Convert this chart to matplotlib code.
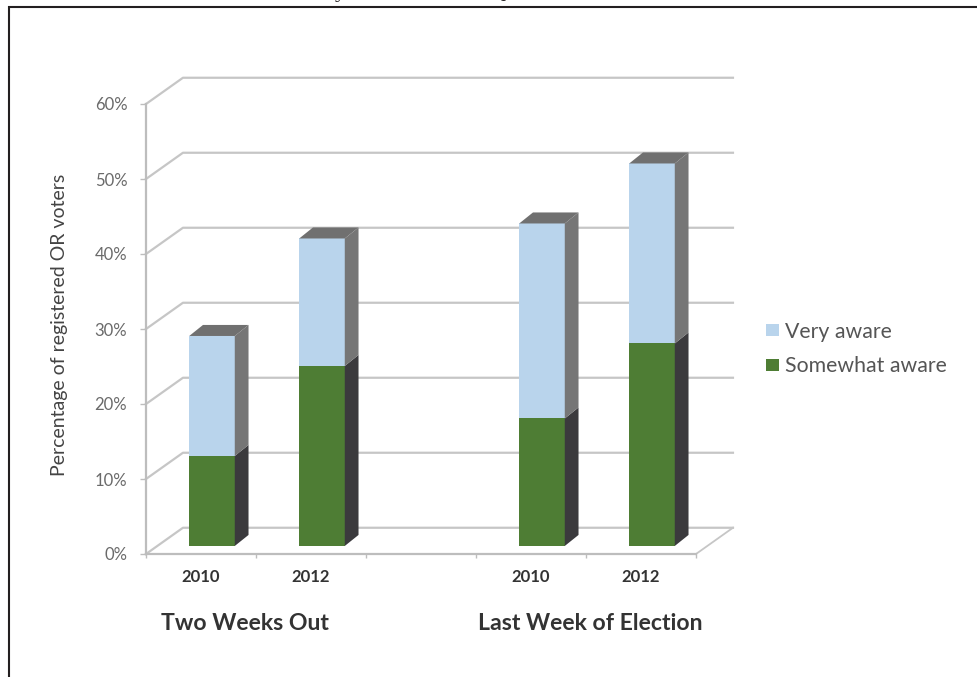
import matplotlib
matplotlib.use("Agg")
import matplotlib.pyplot as plt
from matplotlib.lines import Line2D
import numpy as np

categories = ['2010', '2012', '', '2010', '2012']
bar_slots = np.array([0, 1, 3, 4])
somewhat_aware = np.array([12, 24, 17, 27])
very_aware = np.array([16, 17, 26, 24])
y_ticks = [0, 10, 20, 30, 40, 50, 60]
groups = ['Two Weeks Out', 'Last Week of Election']

plt.rcParams['font.family'] = ['Lato', 'DejaVu Sans']

W, H = 977, 677
fig = plt.figure(figsize=(W / 100, H / 100), dpi=100)
ax = fig.add_axes([146 / W, 1 - 554 / H, 550 / W, 450 / H])
ax.set_xlim(0, 5)
ax.set_ylim(0, 60)

# fake 3d depth, in data units
dx, dy = 0.336, 3.5
bar_w = 0.414
bar_dx, bar_dy = 0.125, 1.47
off_x, off_y = 0.1, 1.07

grid_c = '#c6c6c6'
for v in y_ticks:
    ax.plot([0, dx, 5 + dx], [v, v + dy, v + dy], color=grid_c, lw=1.6, clip_on=False, zorder=1)
ax.plot([5, 5 + dx], [0, dy], color=grid_c, lw=1.3, clip_on=False, zorder=1)

x = bar_slots + 0.5 + off_x
green = ax.bar(x, somewhat_aware, bar_w, bottom=off_y, color='#4e7d34', zorder=3, label='Somewhat aware')
blue = ax.bar(x, very_aware, bar_w, bottom=off_y + somewhat_aware, color='#b9d4ec', zorder=3, label='Very aware')


def side(xr, y0, y1, c):
    ax.fill([xr, xr + bar_dx, xr + bar_dx, xr],
            [y0, y0 + bar_dy, y1 + bar_dy, y1], color=c, lw=0, zorder=3, clip_on=False)


for xc, s, v in zip(x, somewhat_aware, very_aware):
    xr = xc + bar_w / 2
    side(xr, off_y, off_y + s, '#3b3a3d')
    side(xr, off_y + s, off_y + s + v, '#767676')
    top = off_y + s + v
    ax.fill([xr - bar_w, xr, xr + bar_dx, xr - bar_w + bar_dx],
            [top, top, top + bar_dy, top + bar_dy], color='#707070', lw=0, zorder=3, clip_on=False)

for name in ['top', 'right']:
    ax.spines[name].set_visible(False)
for name in ['left', 'bottom']:
    ax.spines[name].set_color('#bdbdbd')
    ax.spines[name].set_linewidth(1.6)

ax.set_yticks(y_ticks)
ax.set_yticklabels([f'{v}%' for v in y_ticks], fontsize=12, color='#6a6a6a')
ax.tick_params(axis='y', length=4, width=1, color='#bdbdbd', pad=9.5)
ax.set_xticks(np.arange(6))
ax.set_xticklabels([])
ax.tick_params(axis='x', which='major', length=3, width=1, color='#bdbdbd')
ax.set_xticks(np.arange(5) + 0.5, minor=True)
ax.set_xticklabels(categories, minor=True, fontsize=12, fontweight='bold', color='#333333')
ax.tick_params(axis='x', which='minor', length=0, pad=11)

ax.set_ylabel('Percentage of registered OR voters', fontsize=14, color='#444444')
ax.yaxis.set_label_coords((68 - 146) / 550, (554 - 325) / 450)

for label, px in zip(groups, [245, 590.5]):
    fig.text(px / W, 1 - 623 / H, label, fontsize=16.6, fontweight='bold', color='#333333',
             ha='center', va='center')

ax.legend(handles=[blue, green], loc='center left', bbox_to_anchor=(766 / W, 1 - 349 / H),
          bbox_transform=fig.transFigure, frameon=False, fontsize=15.3, labelcolor='#555555',
          handlelength=0.6, handleheight=0.5, handletextpad=0.3, labelspacing=0.7,
          borderpad=0, borderaxespad=0)

# page frame and the cut off caption above it
fig.add_artist(Line2D([9 / W, 9 / W], [0, 1 - 6 / H], color='#231f20', lw=1.5, solid_capstyle='butt'))
fig.add_artist(Line2D([8 / W, 1], [1 - 7 / H, 1 - 7 / H], color='#231f20', lw=1.5, solid_capstyle='butt'))
fig.text(340 / W, 1 + 3 / H, 'y', family='Liberation Serif', fontsize=16, color='#231f20', ha='center', va='baseline')
fig.text(497 / W, 1 + 2 / H, 'Q', family='Liberation Serif', fontsize=16, color='#231f20', ha='center', va='baseline')

fig.savefig('out.png', dpi=100)
